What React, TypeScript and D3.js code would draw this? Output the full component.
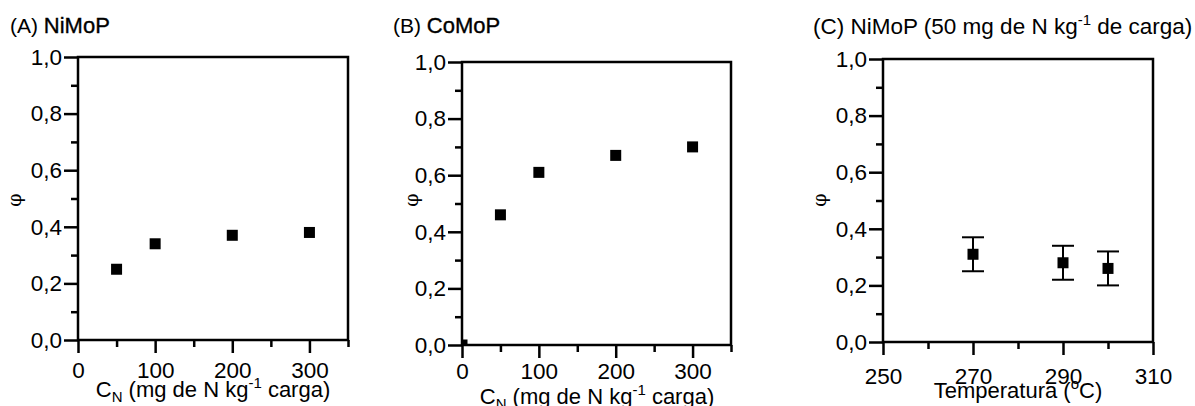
import React, { useRef, useEffect } from 'react';
import * as d3 from 'd3';

// data
const cnNiMoP = [50, 100, 200, 300];
const phiNiMoP = [0.25, 0.34, 0.37, 0.38];
const cnCoMoP = [0, 50, 100, 200, 300];
const phiCoMoP = [0, 0.46, 0.61, 0.67, 0.70];
const temperatures = [270, 290, 300];
const phiTemp = [0.31, 0.28, 0.26];
const phiTempErr = [0.06, 0.06, 0.06];

const phiTicks = [0, 0.2, 0.4, 0.6, 0.8, 1.0];
const phiMinor = [0.1, 0.3, 0.5, 0.7, 0.9];
const cnTicks = [0, 100, 200, 300];
const cnMinor = [50, 150, 250, 350];
const tempTicks = [250, 270, 290, 310];
const tempMinor = [260, 280, 300];

const FONT = '"Liberation Sans", Arial, sans-serif';
const fmt = (v: number) => d3.format('.1f')(v).replace('.', ',');

type PanelProps = {
  id: string;
  left: number; right: number; top: number; bottom: number;
  xDomain: [number, number];
  xTicks: number[]; xMinor: number[]; xPad: number;
  xs: number[]; ys: number[]; errs?: number[];
};

function Panel({ id, left, right, top, bottom, xDomain, xTicks, xMinor, xPad, xs, ys, errs }: PanelProps) {
  const xRef = useRef<SVGGElement>(null);
  const xMinRef = useRef<SVGGElement>(null);
  const yRef = useRef<SVGGElement>(null);
  const yMinRef = useRef<SVGGElement>(null);

  const x = d3.scaleLinear().domain(xDomain).range([left, right]);
  const y = d3.scaleLinear().domain([0, 1]).range([bottom, top]);

  useEffect(() => {
    const style = (g: any) => {
      g.select('.domain').remove();
      g.selectAll('line').attr('stroke', '#000').attr('stroke-width', 2.5);
      g.selectAll('text').attr('font-family', FONT).attr('font-size', 22.5).attr('fill', '#000');
    };
    d3.select(xRef.current!).call(d3.axisBottom(x).tickValues(xTicks).tickSize(13).tickPadding(xPad).tickFormat(d3.format('d') as any)).call(style);
    d3.select(xMinRef.current!).call(d3.axisBottom(x).tickValues(xMinor).tickSize(7).tickFormat(() => '')).call(style);
    d3.select(yRef.current!).call(d3.axisLeft(y).tickValues(phiTicks).tickSize(14).tickPadding(2).tickFormat(fmt as any)).call(style);
    d3.select(yMinRef.current!).call(d3.axisLeft(y).tickValues(phiMinor).tickSize(7).tickFormat(() => '')).call(style);
  }, []);

  const s = 11;
  return (
    <g>
      <defs>
        <clipPath id={`clip-${id}`}>
          <rect x={left} y={top} width={right - left} height={bottom - top} />
        </clipPath>
      </defs>
      <g ref={xRef} transform={`translate(0,${bottom})`} />
      <g ref={xMinRef} transform={`translate(0,${bottom})`} />
      <g ref={yRef} transform={`translate(${left},0)`} />
      <g ref={yMinRef} transform={`translate(${left},0)`} />
      {errs && xs.map((v, i) => (
        <g key={`e${i}`} stroke="#000" strokeWidth={2}>
          <line x1={x(v)} x2={x(v)} y1={y(ys[i] - errs[i])} y2={y(ys[i] + errs[i])} />
          <line x1={x(v) - 11} x2={x(v) + 11} y1={y(ys[i] + errs[i])} y2={y(ys[i] + errs[i])} />
          <line x1={x(v) - 11} x2={x(v) + 11} y1={y(ys[i] - errs[i])} y2={y(ys[i] - errs[i])} />
        </g>
      ))}
      <g clipPath={`url(#clip-${id})`}>
        {xs.map((v, i) => (
          <rect key={i} x={x(v) - s / 2} y={y(ys[i]) - s / 2} width={s} height={s} fill="#000" />
        ))}
      </g>
      <rect x={left} y={top} width={right - left} height={bottom - top} fill="none" stroke="#000" strokeWidth={2.5} />
    </g>
  );
}

function Phi({ x, y }: { x: number; y: number }) {
  return (
    <text transform={`translate(${x},${y}) rotate(-90)`} textAnchor="middle" fontFamily='"DejaVu Serif", serif' fontSize={19}>φ</text>
  );
}

function CnTitle({ x, y }: { x: number; y: number }) {
  return (
    <text x={x} y={y} textAnchor="middle" fontFamily={FONT} fontSize={22}>
      C<tspan fontSize={15} dy={5}>N</tspan>
      <tspan dy={-5}> (mg de N kg</tspan>
      <tspan fontSize={15} dy={-9}>-1</tspan>
      <tspan dy={9}> carga)</tspan>
    </text>
  );
}

export default function App() {
  return (
    <svg width={1195} height={406} style={{ position: 'absolute', left: 0, top: 0, background: '#fff' }}>
      {/* (A) */}
      <text x={10} y={33} fontFamily={FONT} fontSize={21}>(A) <tspan fontSize={22} stroke="#000" strokeWidth={0.35}>NiMoP</tspan></text>
      <Panel id="a" left={78} right={348} top={57} bottom={340} xDomain={[0, 350]} xTicks={cnTicks} xMinor={cnMinor} xPad={9} xs={cnNiMoP} ys={phiNiMoP} />
      <Phi x={21} y={200} />
      <CnTitle x={213} y={397} />

      {/* (B) */}
      <text x={393} y={33} fontFamily={FONT} fontSize={21}>(B) <tspan fontSize={22} stroke="#000" strokeWidth={0.35}>CoMoP</tspan></text>
      <Panel id="b" left={462} right={731} top={62} bottom={345} xDomain={[0, 350]} xTicks={cnTicks} xMinor={cnMinor} xPad={5} xs={cnCoMoP} ys={phiCoMoP} />
      <Phi x={418} y={200} />
      <CnTitle x={597} y={404} />

      {/* (C) */}
      <text x={813} y={34} fontFamily={FONT} fontSize={22.5}>(C) NiMoP (50 mg de N kg<tspan fontSize={15} dy={-9}>-1</tspan><tspan dy={9}> de carga)</tspan></text>
      <Panel id="c" left={883} right={1153} top={59} bottom={342} xDomain={[250, 310]} xTicks={tempTicks} xMinor={tempMinor} xPad={13} xs={temperatures} ys={phiTemp} errs={phiTempErr} />
      <Phi x={826} y={200} />
      <text x={1018} y={398} textAnchor="middle" fontFamily={FONT} fontSize={22}>
        Temperatura (<tspan fontSize={15} dy={-9}>o</tspan><tspan dy={9}>C)</tspan>
      </text>
    </svg>
  );
}
